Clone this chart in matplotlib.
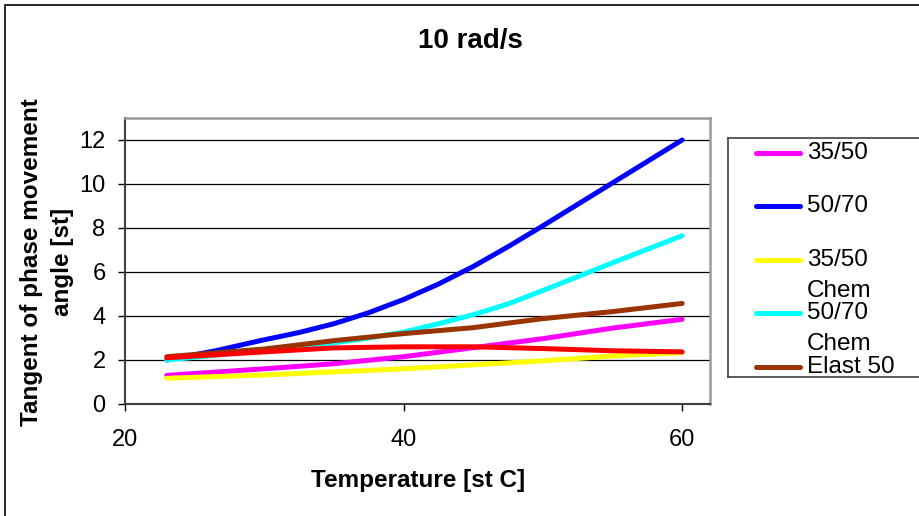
import matplotlib
matplotlib.use("Agg")
import matplotlib.pyplot as plt
from matplotlib.patches import Rectangle
from matplotlib.lines import Line2D

plt.rcParams['font.family'] = ['Liberation Sans', 'DejaVu Sans']

# --- Daten ---
temperature = [23, 30, 35, 40, 45, 50, 55, 60]
temperature_fine = [23, 26.5, 30, 32.5, 35, 37.5, 40, 42.5, 45, 47.5, 50, 55, 60]

tan_3550 = [1.30, 1.60, 1.83, 2.15, 2.56, 2.97, 3.45, 3.85]
tan_5070 = [2.00, 2.42, 2.92, 3.25, 3.65, 4.15, 4.75, 5.45, 6.25, 7.15, 8.10, 10.05, 12.00]
tan_3550_chem = [1.17, 1.32, 1.46, 1.60, 1.78, 1.96, 2.18, 2.33]
tan_5070_chem = [2.00, 2.22, 2.45, 2.60, 2.78, 3.00, 3.27, 3.65, 4.06, 4.55, 5.16, 6.42, 7.65]
tan_elast50 = [2.15, 2.50, 2.88, 3.20, 3.47, 3.88, 4.20, 4.57]
tan_red = [2.10, 2.37, 2.55, 2.60, 2.60, 2.52, 2.42, 2.37]

series = [
    ("35/50", temperature, tan_3550, "#FF00FF"),
    ("50/70", temperature_fine, tan_5070, "#0000FF"),
    ("35/50\nChem", temperature, tan_3550_chem, "#FFFF00"),
    ("50/70\nChem", temperature_fine, tan_5070_chem, "#00FFFF"),
    ("Elast 50", temperature, tan_elast50, "#993300"),
    (None, temperature, tan_red, "#FF0000"),
]

W, H = 919, 516
fig = plt.figure(figsize=(W / 100, H / 100), dpi=100)

# äußerer Rahmen
fig.patches.append(Rectangle((5 / W, -0.02), 1.05, 1 - 5 / H + 0.02,
                             transform=fig.transFigure, fill=False,
                             edgecolor="black", linewidth=1.2))

ax = fig.add_axes([125 / W, 1 - 404 / H, (710 - 125) / W, (404 - 118) / H])
for label, xs, values, color in series:
    ax.plot(xs, values, color=color, linewidth=3.6,
            solid_capstyle="round", solid_joinstyle="round")

ax.set_xlim(20, 62)
ax.set_ylim(0, 13)
ax.set_xticks([20, 40, 60])
ax.set_yticks(range(0, 13, 2))
ax.yaxis.grid(True, color="black", linewidth=0.9)
ax.set_axisbelow(True)
ax.tick_params(labelsize=17, length=5, width=1, direction="out")
ax.tick_params(axis="x", pad=13)
ax.tick_params(axis="y", pad=9)
for side in ["top", "right"]:
    ax.spines[side].set_color("#9a9a9a")
    ax.spines[side].set_linewidth(1.8)
for side in ["left", "bottom"]:
    ax.spines[side].set_color("#404040")
    ax.spines[side].set_linewidth(1.5)

fig.text(470 / W, 1 - 41 / H, "10 rad/s", ha="center", va="center",
         fontsize=20, fontweight="bold")
fig.text(418 / W, 1 - 480 / H, "Temperature [st C]", ha="center", va="center",
         fontsize=17.5, fontweight="bold")
fig.text(47 / W, 1 - 262 / H, "Tangent of phase movement\nangle [st]",
         ha="center", va="center", rotation=90, multialignment="center",
         fontsize=17.5, fontweight="bold", linespacing=1.45)

# Legende (Excel-Stil, Linie auf Höhe der ersten Textzeile)
lx0, lx1, ly0, ly1 = 728, 930, 138, 377
lax = fig.add_axes([lx0 / W, 1 - ly1 / H, (lx1 - lx0) / W, (ly1 - ly0) / H])
lax.set_xlim(lx0, lx1)
lax.set_ylim(ly1, ly0)
lax.set_xticks([])
lax.set_yticks([])
for s in lax.spines.values():
    s.set_color("#404040")
    s.set_linewidth(1.2)
entry_y = 153
for label, xs, values, color in series:
    if label is None:
        continue
    lax.add_line(Line2D([756, 800], [entry_y, entry_y], color=color,
                        linewidth=3.6, solid_capstyle="round"))
    for i, part in enumerate(label.split("\n")):
        lax.text(807, entry_y + i * 31, part, ha="left", va="center",
                 fontsize=17.5)
    entry_y += 53.5

fig.savefig("out.png", dpi=100)
